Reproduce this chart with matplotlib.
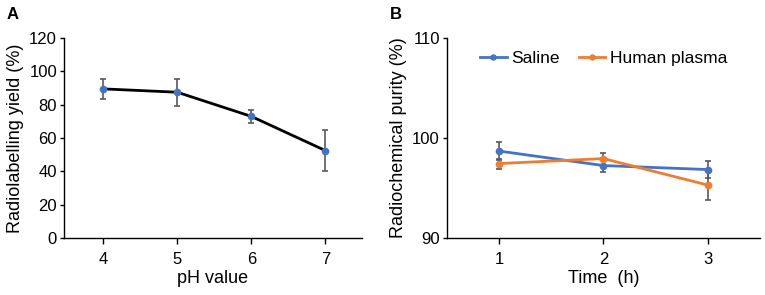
import numpy as np
import matplotlib
matplotlib.use('Agg')
import matplotlib.pyplot as plt

plt.rcParams['font.family'] = ['Liberation Sans', 'DejaVu Sans']

# 面板 A 数据
ph_values = [4, 5, 6, 7]
yield_mean = [89.5, 87.5, 73.0, 52.5]
yield_err = [6.0, 8.0, 4.0, 12.5]

# 面板 B 数据
time_h = [1, 2, 3]
saline_mean = [98.7, 97.25, 96.85]
saline_err = [0.9, 0.65, 0.85]
plasma_mean = [97.45, 97.95, 95.3]
plasma_err = [0.5, 0.6, 1.5]

blue = '#4472C4'
orange = '#ED7D31'
err_col = '#595959'

fig = plt.figure(figsize=(7.65, 2.95), dpi=100)
ax1 = fig.add_axes([0.0837, 0.193, 0.389, 0.678])
ax2 = fig.add_axes([0.584, 0.193, 0.4095, 0.678])

def style_axis(ax):
    for s in ['top', 'right']:
        ax.spines[s].set_visible(False)
    for s in ['left', 'bottom']:
        ax.spines[s].set_linewidth(1.0)
        ax.spines[s].set_color('black')
    ax.tick_params(axis='y', labelsize=12, length=3, width=1, pad=2)
    ax.tick_params(axis='x', labelsize=12, length=4, width=1, pad=6)

# A
ax1.errorbar(ph_values, yield_mean, yerr=yield_err, fmt='none', ecolor=err_col,
             elinewidth=1.2, capsize=2.5, capthick=1.2, zorder=2)
ax1.plot(ph_values, yield_mean, '-', color='black', linewidth=2, zorder=3)
ax1.plot(ph_values, yield_mean, 'o', color=blue, markersize=4.5, zorder=4)
ax1.set_xlim(3.47, 7.49)
ax1.set_ylim(0, 120)
ax1.set_xticks(ph_values)
ax1.set_yticks(np.arange(0, 121, 20))
ax1.set_xlabel('pH value', fontsize=13, labelpad=2)
ax1.set_ylabel('Radiolabelling yield (%)', fontsize=13, labelpad=4)
style_axis(ax1)

# B
ax2.errorbar(time_h, saline_mean, yerr=saline_err, fmt='none', ecolor=err_col,
             elinewidth=1.2, capsize=2.5, capthick=1.2, zorder=2)
ax2.errorbar(time_h, plasma_mean, yerr=plasma_err, fmt='none', ecolor=err_col,
             elinewidth=1.2, capsize=2.5, capthick=1.2, zorder=2)
ax2.plot(time_h, saline_mean, '-o', color=blue, linewidth=2, markersize=4.5,
         label='Saline', zorder=3)
ax2.plot(time_h, plasma_mean, '-o', color=orange, linewidth=2, markersize=4.5,
         label='Human plasma', zorder=4)
ax2.set_xlim(0.5, 3.5)
ax2.set_ylim(90, 110)
ax2.set_xticks(time_h)
ax2.set_yticks([90, 100, 110])
ax2.set_xlabel('Time  (h)', fontsize=13, labelpad=2)
ax2.set_ylabel('Radiochemical purity (%)', fontsize=13, labelpad=4)
style_axis(ax2)
ax2.legend(loc='upper center', bbox_to_anchor=(0.5, 0.99), ncol=2, frameon=False,
           fontsize=12.5, handlelength=1.55, handletextpad=0.25, columnspacing=1.1,
           markerscale=0.8, borderaxespad=0.2)

fig.text(0.009, 0.95, 'A', fontsize=12, fontweight='bold', va='center')
fig.text(0.51, 0.95, 'B', fontsize=12, fontweight='bold', va='center')

plt.savefig('out.png', dpi=100)
plt.close()
